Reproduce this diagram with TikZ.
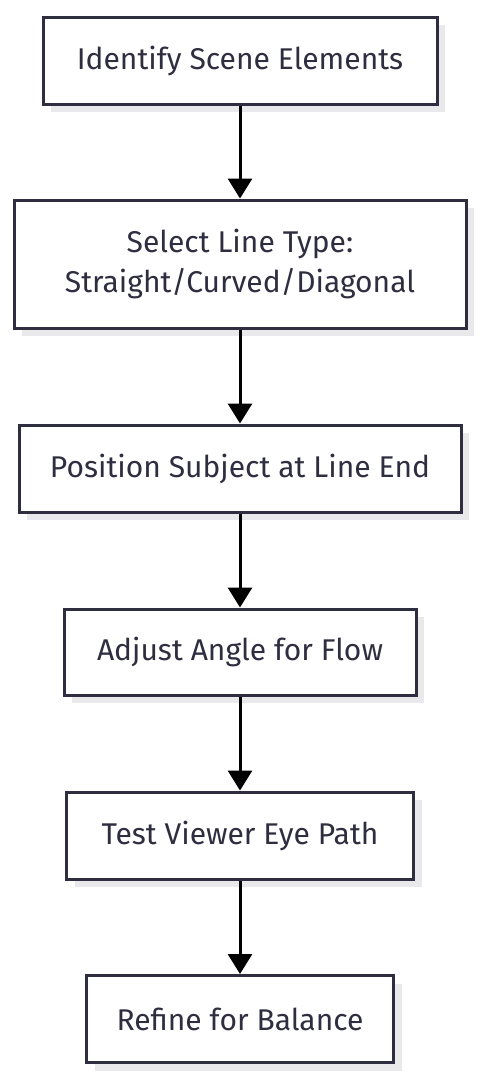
\documentclass[tikz,border=0pt]{standalone}
\usepackage{fontspec}
\setmainfont{Fira Sans}
\usetikzlibrary{arrows.meta,shadows}
\definecolor{boxline}{HTML}{2E2E40}
\definecolor{shadowgray}{HTML}{E9E9EB}
\begin{document}
\begin{tikzpicture}[x=1pt,y=-1pt]
        \tikzstyle{every node}=[rectangle, draw=boxline, fill=white, line width=3pt, font=\fontsize{30}{40}\selectfont, text=boxline, align=center, drop shadow={shadow xshift=8pt, shadow yshift=-8pt, fill=shadowgray, opacity=1}]
        \tikzstyle{edge}=[black, line width=3pt, -{Triangle[width=24pt,length=20pt]}]

        \useasboundingbox (0,0) rectangle (481,1080);

        \node[minimum width=394pt, minimum height=87pt] (identify) at (240,60.5) {Identify Scene Elements};
        \node[minimum width=452pt, minimum height=128pt] (select) at (240,264) {Select Line Type:\\Straight/Curved/Diagonal};
        \node[minimum width=442pt, minimum height=87pt] (position) at (240,468.5) {Position Subject at Line End};
        \node[minimum width=352pt, minimum height=86pt] (adjust) at (240,652) {Adjust Angle for Flow};
        \node[minimum width=347pt, minimum height=87pt] (test) at (240,835.5) {Test Viewer Eye Path};
        \node[minimum width=307pt, minimum height=87pt] (refine) at (240,1019) {Refine for Balance};

        \draw[edge] (identify) -- (select);
        \draw[edge] (select) -- (position);
        \draw[edge] (position) -- (adjust);
        \draw[edge] (adjust) -- (test);
        \draw[edge] (test) -- (refine);
    \end{tikzpicture}
\end{document}
